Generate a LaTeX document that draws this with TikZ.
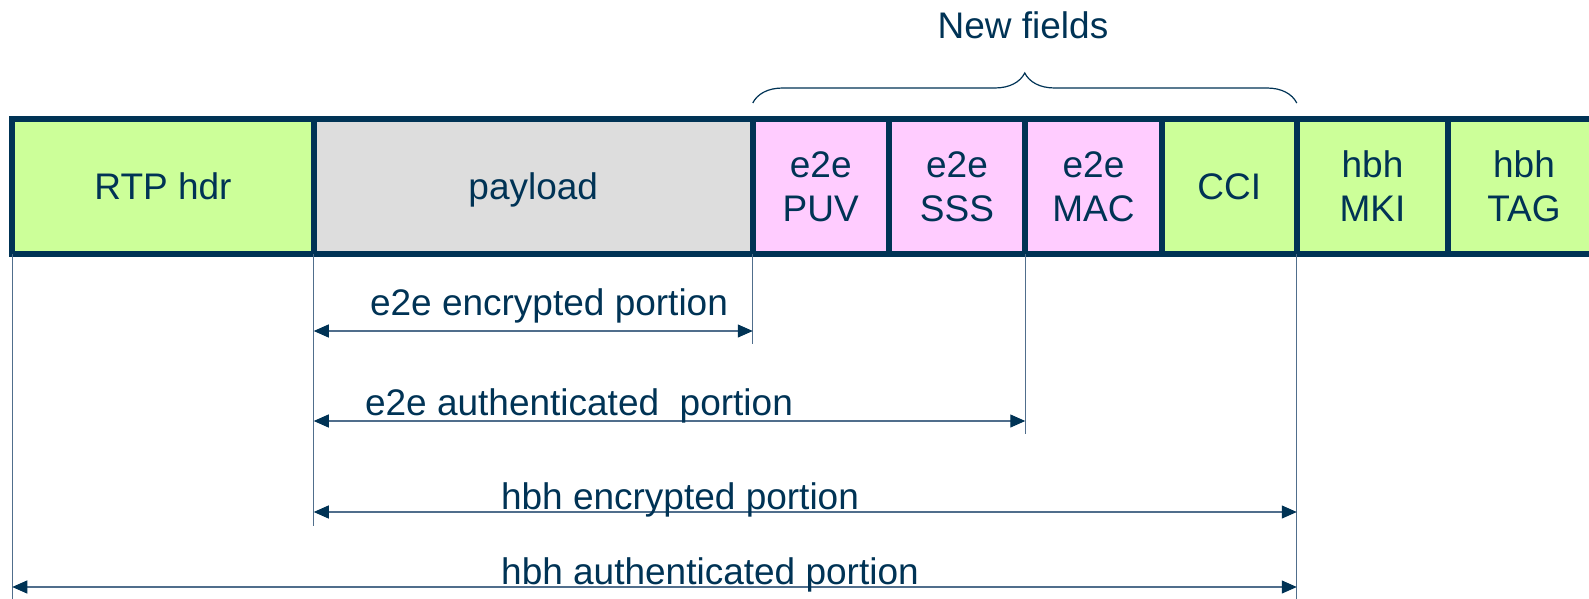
\documentclass[tikz,border=0pt]{standalone}
\usepackage{fontspec}
\setmainfont{Liberation Sans}
\usetikzlibrary{positioning,arrows.meta,decorations.pathreplacing}

\definecolor{navy}{RGB}{0,51,85}
\definecolor{guidecol}{RGB}{80,110,140}
\definecolor{fgreen}{RGB}{204,255,153}
\definecolor{fgray}{RGB}{221,221,221}
\definecolor{fpink}{RGB}{255,204,255}

\tikzset{
  field/.style={draw=navy, line width=3pt, minimum height=67.5pt, outer sep=0pt,
    inner sep=0pt, align=center, text=navy, text depth=0pt,
    font=\fontsize{18.5}{22}\selectfont},
  guide/.style={draw=guidecol, line width=0.6pt},
  span/.style={draw=guidecol, line width=0.6pt,
    {Triangle[length=7.5pt,width=6.5pt,color=navy]}-{Triangle[length=7.5pt,width=6.5pt,color=navy]}},
  lbl/.style={text=navy, anchor=base, inner sep=0pt, font=\fontsize{18.5}{22}\selectfont},
  fieldbrace/.style={draw=navy, line width=0.6pt, decorate,
    decoration={brace, amplitude=15pt}}
}

\begin{document}
\begin{tikzpicture}[x=0.5pt, y=-0.5pt]
\useasboundingbox (0,0) rectangle (1589,599);
\clip (0,0) rectangle (1589,599);

% packet fields
\node[field, fill=fgreen, minimum width=150.75pt] (rtp) at (163,186.5) {RTP hdr};
\node[field, fill=fgray, minimum width=219.5pt, right=0pt of rtp] (payload) {payload};
\node[field, fill=fpink, minimum width=68pt, right=0pt of payload] (puv) {e2e\\PUV};
\node[field, fill=fpink, minimum width=68.25pt, right=0pt of puv] (sss) {e2e\\SSS};
\node[field, fill=fpink, minimum width=68.25pt, right=0pt of sss] (mac) {e2e\\MAC};
\node[field, fill=fgreen, minimum width=67.5pt, right=0pt of mac] (cci) {CCI};
\node[field, fill=fgreen, minimum width=75.75pt, right=0pt of cci] (mki) {hbh\\MKI};
\node[field, fill=fgreen, minimum width=75.75pt, right=0pt of mki] (tag) {hbh\\TAG};

% new fields brace
\coordinate (brL) at (puv.north west |- 0,103);
\coordinate (brR) at (cci.north east |- 0,103);
\draw[fieldbrace] (brL) -- (brR);
\node[lbl] (newf) at (1023,39) {New fields};

% guide lines
\coordinate (g1) at (rtp.south west |- 0,599);
\coordinate (g2) at (payload.south west |- 0,526);
\coordinate (g3) at (puv.south west |- 0,344);
\coordinate (g4) at (mac.south west |- 0,434);
\coordinate (g5) at (cci.south east |- 0,599);
\draw[guide] (rtp.south west) -- (g1);
\draw[guide] (payload.south west) -- (g2);
\draw[guide] (puv.south west) -- (g3);
\draw[guide] (mac.south west) -- (g4);
\draw[guide] (cci.south east) -- (g5);

% portions
\coordinate (encL) at (payload.south west |- 0,331);
\coordinate (encR) at (puv.south west |- 0,331);
\coordinate (autL) at (payload.south west |- 0,421);
\coordinate (autR) at (mac.south west |- 0,421);
\coordinate (hencL) at (payload.south west |- 0,512);
\coordinate (hencR) at (cci.south east |- 0,512);
\coordinate (hautL) at (rtp.south west |- 0,587);
\coordinate (hautR) at (cci.south east |- 0,587);
\draw[span] (encL) -- (encR);
\draw[span] (autL) -- (autR);
\draw[span] (hencL) -- (hencR);
\draw[span] (hautL) -- (hautR);

\node[lbl] (encLbl) at (549,315) {e2e encrypted portion};
\node[lbl] (autLbl) at (579,415) {e2e authenticated\ \ portion};
\node[lbl] (hencLbl) at (680,509) {hbh encrypted portion};
\node[lbl] (hautLbl) at (710,584) {hbh authenticated portion};
\end{tikzpicture}
\end{document}
